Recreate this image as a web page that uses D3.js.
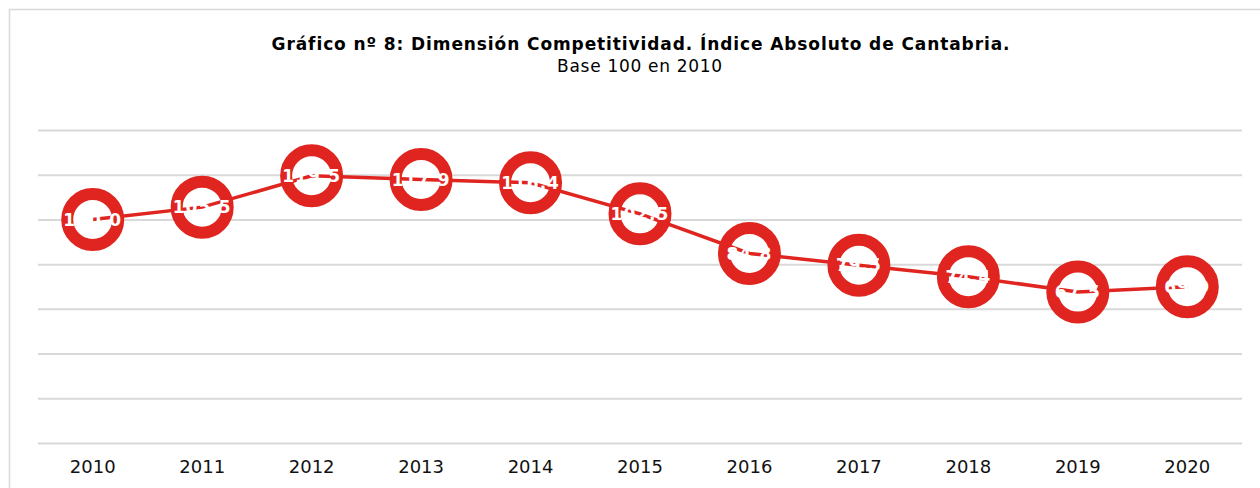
<!DOCTYPE html>
<html>
<head>
<meta charset="utf-8">
<script src="https://cdn.jsdelivr.net/npm/d3@7"></script>
<style>
  body { margin: 0; background: #fff; }
  svg { display: block; font-family: "DejaVu Sans", Verdana, sans-serif; }
</style>
</head>
<body>
<div class="line-chart"></div>
<script>
// datos del gráfico
const years = ['2010','2011','2012','2013','2014','2015','2016','2017','2018','2019','2020'];
const values = [100.0, 105.5, 119.5, 117.9, 116.4, 102.5, 84.8, 79.5, 74.4, 67.5, 69.9];
const yTicks = [0, 20, 40, 60, 80, 100, 120, 140];

const svg_width = 1260;
const svg_height = 488;
const margin = {top: 130, right: 18, bottom: 45, left: 38};
const chart_width = svg_width - margin.left - margin.right;
const chart_height = svg_height - margin.top - margin.bottom;

const svg = d3.select('.line-chart').append('svg')
    .attr('width', svg_width).attr('height', svg_height);

// marco gris
svg.append('rect')
    .attr('x', 9.5).attr('y', 9.5)
    .attr('width', svg_width + 20).attr('height', svg_height + 20)
    .style('fill', 'none').style('stroke', '#d9d9d9').style('stroke-width', 1.5);

// título
const header = svg.append('text').attr('text-anchor', 'middle');
header.append('tspan').text('Gráfico nº 8: Dimensión Competitividad. Índice Absoluto de Cantabria.')
    .attr('x', 641).attr('y', 50).style('font-weight', 'bold').style('font-size', '17px')
    .style('letter-spacing', '0.9px');
header.append('tspan').text('Base 100 en 2010')
    .attr('x', 640).attr('y', 72).style('font-size', '17px').style('letter-spacing', '0.7px');

const g = svg.append('g').attr('transform', `translate(${margin.left},${margin.top})`);

const xScale = d3.scaleBand().domain(years).range([0, chart_width]);
const yScale = d3.scaleLinear().domain([0, 140]).range([chart_height, 0]);

// líneas de cuadrícula
const yAxis = d3.axisLeft(yScale).tickValues(yTicks)
    .tickSizeInner(-chart_width).tickSizeOuter(0).tickFormat('');
const yAxisDraw = g.append('g').attr('class', 'y axis').call(yAxis);
yAxisDraw.select('.domain').remove();
yAxisDraw.selectAll('line').style('stroke', '#d9d9d9').style('stroke-width', 2);

// eje x
const xAxis = d3.axisBottom(xScale).tickSize(0);
const xAxisDraw = g.append('g').attr('class', 'x axis')
    .attr('transform', `translate(0,${chart_height})`)
    .call(xAxis);
xAxisDraw.select('.domain').remove();
xAxisDraw.selectAll('text')
    .attr('dy', '1.5em')
    .style('font-size', '18px').style('fill', '#111')
    .style('font-family', '"DejaVu Sans", Verdana, sans-serif');

const cx = d => xScale(d.year) + xScale.bandwidth() / 2;
const points = years.map((y, i) => ({year: y, value: values[i]}));

// marcadores
g.selectAll('.marker').data(points).enter()
    .append('circle').attr('class', 'marker')
    .attr('cx', cx).attr('cy', d => yScale(d.value))
    .attr('r', 25.5)
    .style('fill', '#fff').style('stroke', '#e02520').style('stroke-width', 12);

// línea
const line = d3.line().x(cx).y(d => yScale(d.value));
g.append('path').datum(points)
    .attr('d', line)
    .style('fill', 'none').style('stroke', '#e02520').style('stroke-width', 3.5);

// etiquetas (texto blanco)
g.selectAll('.label').data(points).enter()
    .append('text').attr('class', 'label')
    .attr('x', cx).attr('y', d => yScale(d.value))
    .attr('dy', '0.36em').attr('text-anchor', 'middle')
    .style('fill', '#fff').style('font-weight', 'bold').style('font-size', '17px')
    .style('letter-spacing', '1px')
    .text(d => d3.format('.1f')(d.value));
</script>
</body>
</html>
